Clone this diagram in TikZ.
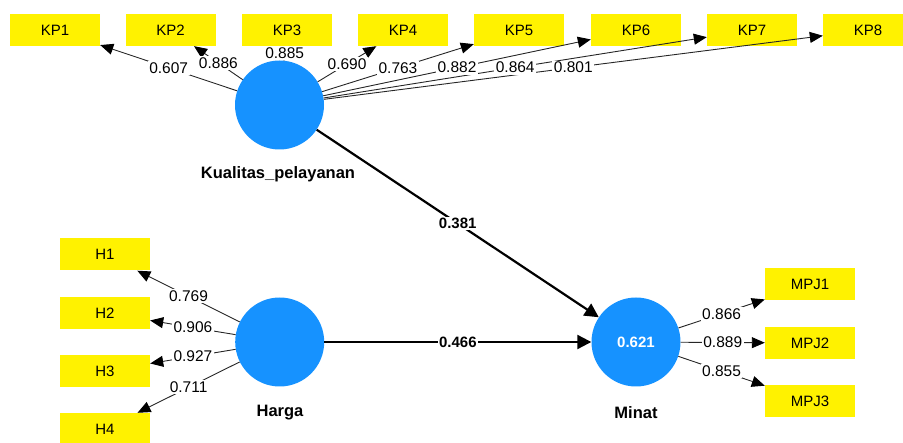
\documentclass[tikz,border=0pt]{standalone}
\usepackage{fontspec}
\setmainfont{Liberation Sans}
\usetikzlibrary{arrows.meta}
\definecolor{plsblue}{RGB}{22,146,255}
\begin{document}
\begin{tikzpicture}[x=1pt,y=-1pt,
 ind/.style={rectangle, fill=yellow, minimum width=90pt, minimum height=32pt, inner sep=0pt, font=\fontsize{15}{15}\selectfont},
 lv/.style={circle, fill=plsblue, minimum size=89pt, inner sep=0pt},
 lvname/.style={font=\fontsize{16.5}{16.5}\selectfont\bfseries},
 ldg/.style={fill=white, inner sep=1.5pt, font=\fontsize{15.5}{15.5}\selectfont},
 coef/.style={fill=white, inner sep=1.5pt, font=\fontsize{15}{15}\selectfont\bfseries},
 indarr/.style={draw=black!85, line width=0.9pt, -{Triangle[length=13pt,width=11pt,color=black]}},
 patharr/.style={draw=black, line width=2.2pt, -{Triangle[length=14pt,width=14pt]}}]
\useasboundingbox (0,0) rectangle (903,443);
\clip (0,0) rectangle (903,443);
% latent variables
\node[lv] (kq) at (279.5,105) {};
\node[lv] (hg) at (279.7,342) {};
\node[lv, text=white, font=\fontsize{15}{15}\selectfont\bfseries] (mn) at (636,342) {0.621};
\node[lvname] (kqn) at (278,174) {Kualitas\_pelayanan};
\node[lvname] (hgn) at (280,413) {Harga};
\node[lvname] (mnn) at (636,413) {Minat};
% indicators
\foreach \i/\x in {1/55,2/170.5,3/287,4/403,5/519,6/636,7/752,8/868}
  \node[ind] (kp\i) at (\x,30) {KP\i};
\foreach \i/\y in {1/254.5,2/313,3/371,4/429}
  \node[ind] (h\i) at (105,\y) {H\i};
\foreach \i/\y in {1/284.5,2/343,3/401}
  \node[ind] (mpj\i) at (810,\y) {MPJ\i};
% connectors
\foreach \i in {1,...,8} \draw[indarr] (kq) -- (kp\i);
\foreach \i in {1,...,4} \draw[indarr] (hg) -- (h\i);
\foreach \i in {1,...,3} \draw[indarr] (mn) -- (mpj\i);
\draw[patharr] (kq) -- (mn);
\draw[patharr] (hg) -- (mn);
% labels on top
\foreach \i/\v in {1/0.607,2/0.886,3/0.885,4/0.690,5/0.763,6/0.882,7/0.864,8/0.801}
  \path (kq) -- node[ldg] {\v} (kp\i);
\foreach \i/\v in {1/0.769,2/0.906,3/0.927,4/0.711}
  \path (hg) -- node[ldg] {\v} (h\i);
\foreach \i/\v in {1/0.866,2/0.889,3/0.855}
  \path (mn) -- node[ldg] {\v} (mpj\i);
\path (kq) -- node[coef] {0.381} (mn);
\path (hg) -- node[coef] {0.466} (mn);
\end{tikzpicture}
\end{document}
